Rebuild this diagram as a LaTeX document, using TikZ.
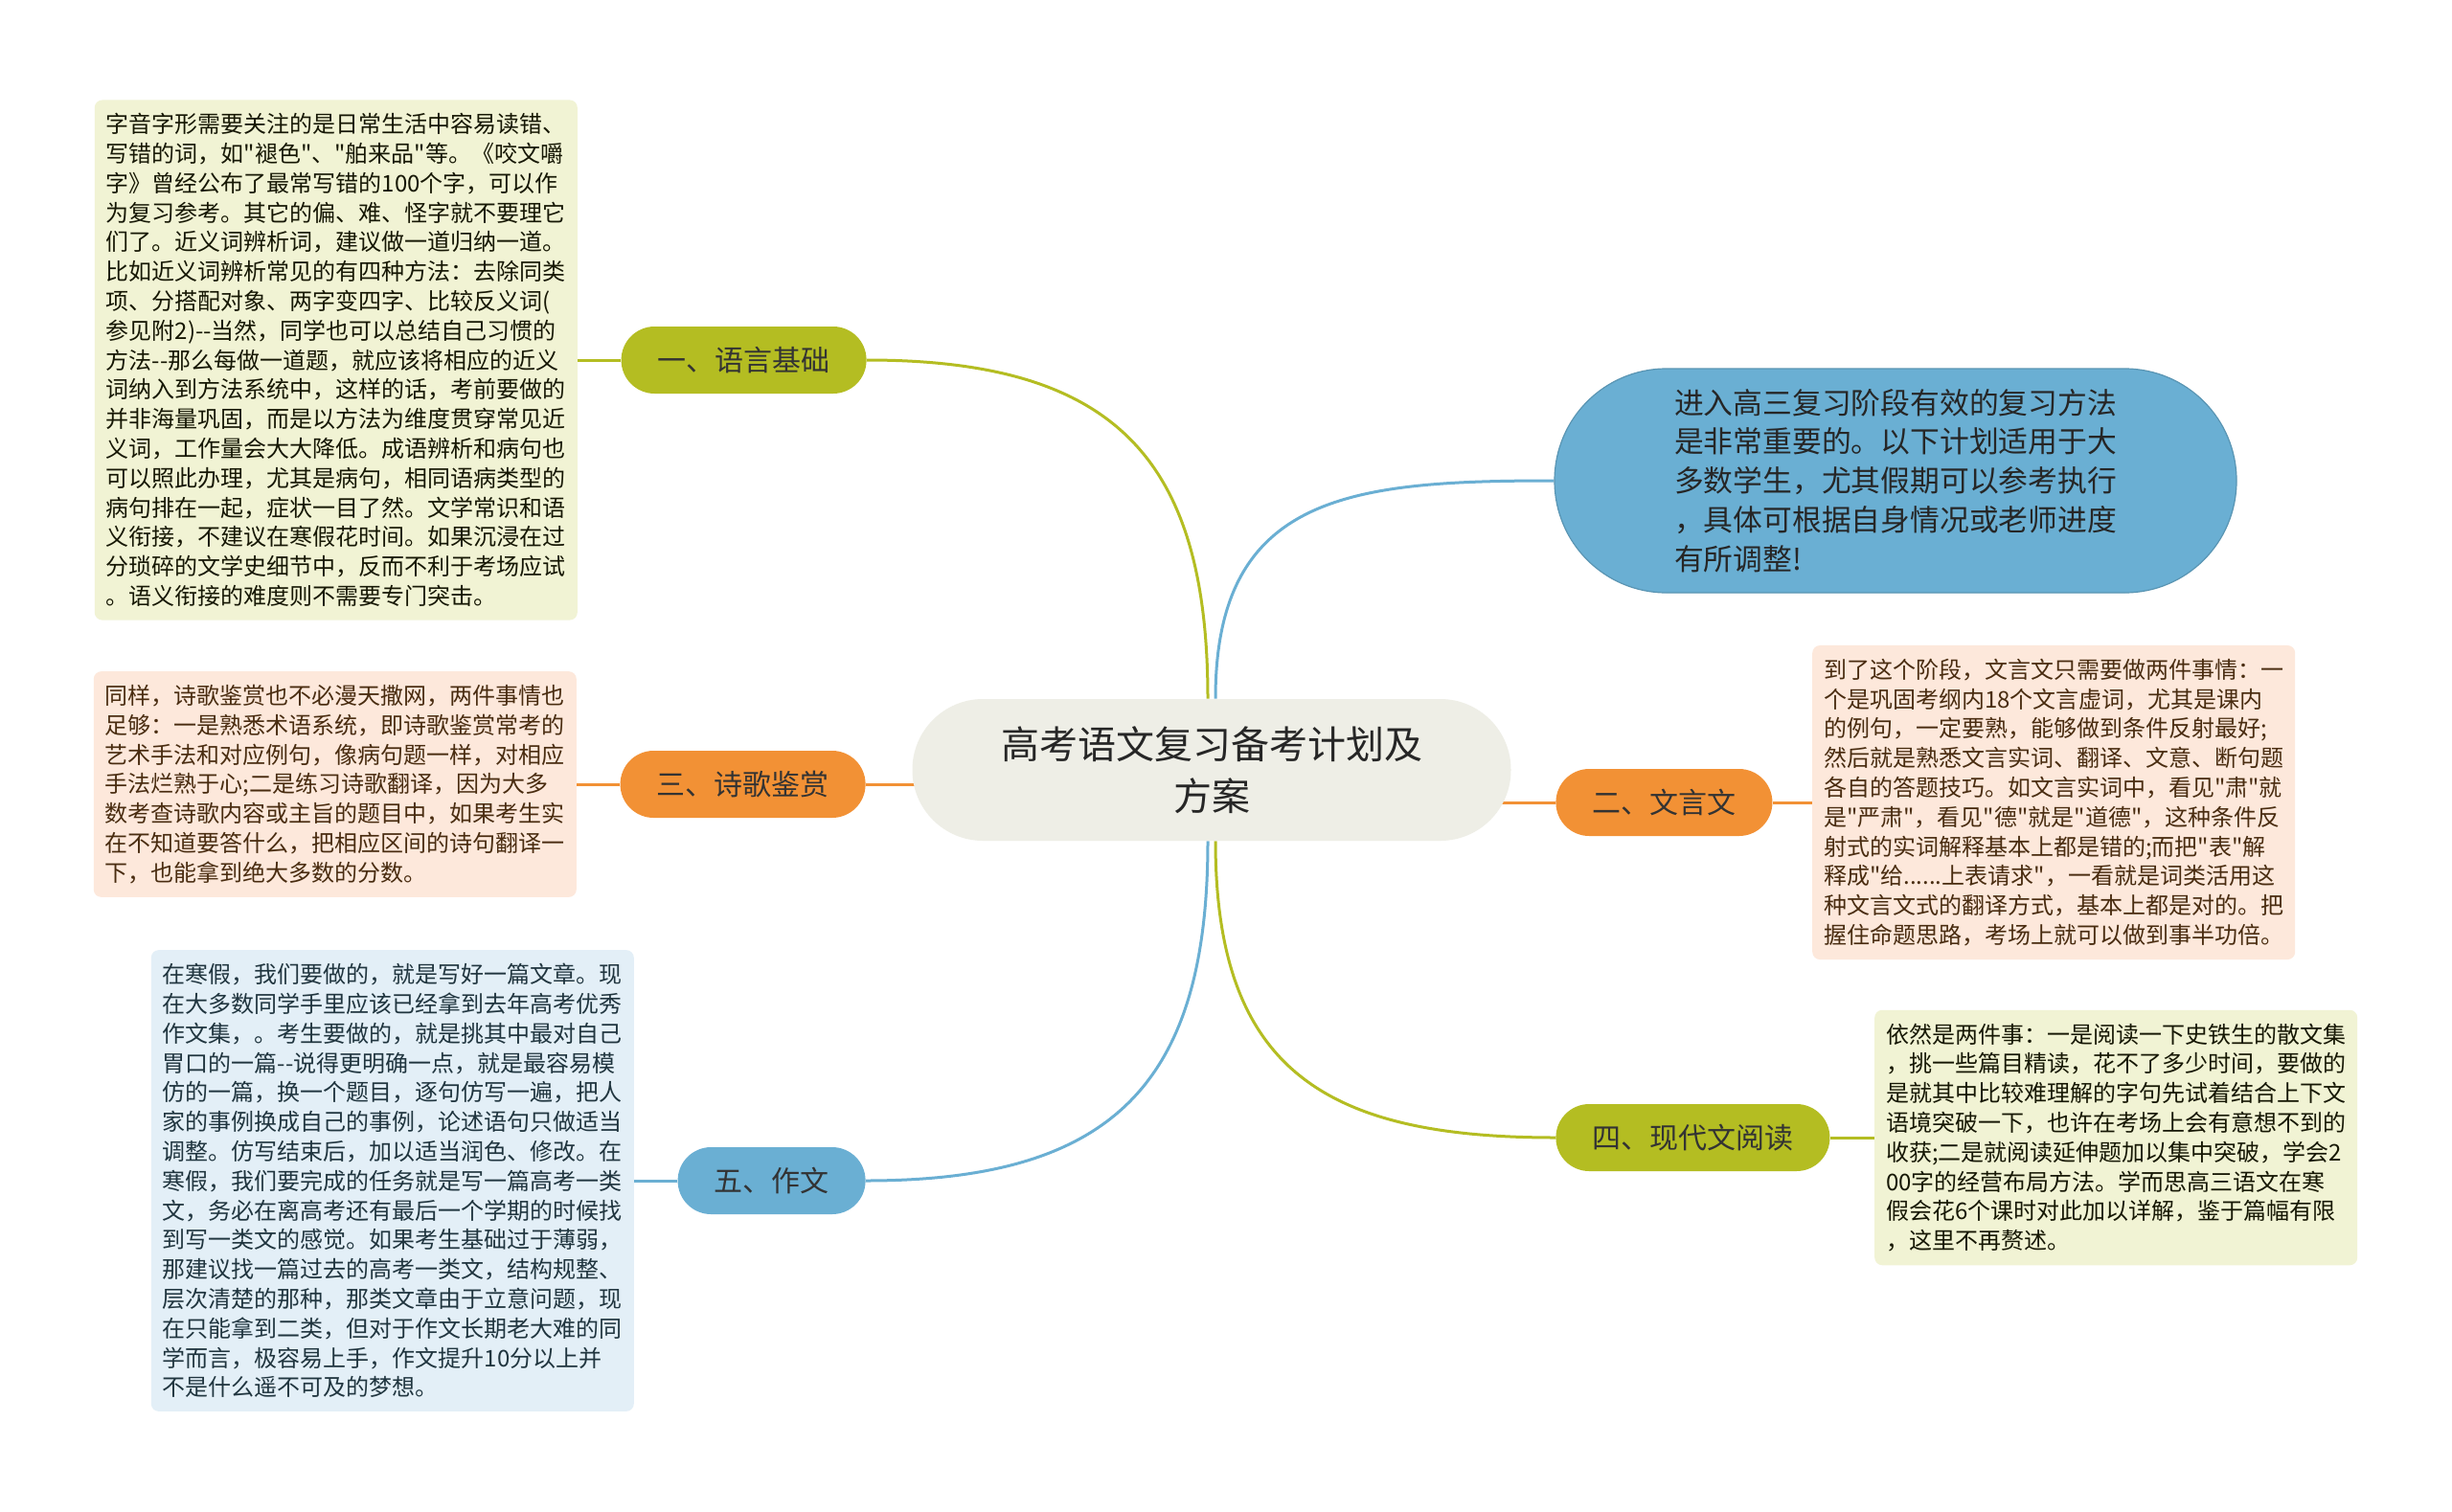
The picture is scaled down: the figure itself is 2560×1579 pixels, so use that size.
\documentclass[tikz,border=0pt]{standalone}
\usepackage{fontspec}
\setmainfont{Noto Sans CJK SC}[Ligatures=TeXOff]
\usetikzlibrary{positioning,backgrounds}
\definecolor{ygreen}{HTML}{B4BD22}
\definecolor{orng}{HTML}{F29135}
\definecolor{skyb}{HTML}{6AAFD3}
\definecolor{planfill}{HTML}{EEEEE6}
\definecolor{ygreenlight}{HTML}{F1F3D4}
\definecolor{ornglight}{HTML}{FDE8DB}
\definecolor{skyblight}{HTML}{E3EFF7}
\tikzstyle{topic}=[
	rectangle,
	rounded corners=36.9pt,
	fill=planfill,
	minimum width=312.5pt,
	minimum height=74pt,
	align=center,
	text=black!85,
	font=\fontsize{20pt}{27pt}\selectfont
]
\tikzstyle{branch}=[
	rectangle,
	rounded corners=17.4pt,
	minimum height=35pt,
	inner xsep=19pt,
	text=black!80,
	font=\fontsize{15pt}{18pt}\selectfont
]
\tikzstyle{intro}=[
	rectangle,
	rounded corners=58.4pt,
	fill=skyb,
	draw=skyb!85!black,
	line width=0.6pt,
	minimum width=356pt,
	minimum height=117pt,
	text width=231pt,
	align=left,
	text=black!85,
	font=\fontsize{15.4pt}{20.4pt}\selectfont
]
\tikzstyle{note}=[
	rectangle,
	rounded corners=4pt,
	text width=240pt,
	inner xsep=6pt,
	inner ysep=7pt,
	align=left,
	font=\fontsize{12pt}{15.4pt}\selectfont
]
\tikzstyle{link}=[
	line width=1.5pt
]

\begin{document}
\begin{tikzpicture}[x=0.5pt,y=-0.5pt]
\useasboundingbox (0,0) rectangle (2560,1579);

% centre and branches
\node [topic] (plan) at (1265,804) {高考语文复习备考计划及\\方案};
\node [branch, fill=ygreen, anchor=east] (yuyan) at (905,376) {一、语言基础};
\node [branch, fill=orng, anchor=east] (shige) at (904,819) {三、诗歌鉴赏};
\node [branch, fill=skyb, anchor=east] (zuowen) at (904,1233) {五、作文};
\node [intro] (intro) at (1979,502) {进入高三复习阶段有效的复习方法\\是非常重要的。以下计划适用于大\\多数学生，尤其假期可以参考执行\\，具体可根据自身情况或老师进度\\有所调整!};
\node [branch, fill=orng, anchor=west] (wenyan) at (1624,838) {二、文言文};
\node [branch, fill=ygreen, anchor=west] (xiandai) at (1624,1188) {四、现代文阅读};

% notes
\node [note, fill=ygreenlight, text=black!80!ygreen!60!black] (yuyanNote) [left=22.5pt of yuyan] {字音字形需要关注的是日常生活中容易读错、\\写错的词，如"褪色"、"舶来品"等。《咬文嚼\\字》曾经公布了最常写错的100个字，可以作\\为复习参考。其它的偏、难、怪字就不要理它\\们了。近义词辨析词，建议做一道归纳一道。\\比如近义词辨析常见的有四种方法：去除同类\\项、分搭配对象、两字变四字、比较反义词(\\参见附2)--当然，同学也可以总结自己习惯的\\方法--那么每做一道题，就应该将相应的近义\\词纳入到方法系统中，这样的话，考前要做的\\并非海量巩固，而是以方法为维度贯穿常见近\\义词，工作量会大大降低。成语辨析和病句也\\可以照此办理，尤其是病句，相同语病类型的\\病句排在一起，症状一目了然。文学常识和语\\义衔接，不建议在寒假花时间。如果沉浸在过\\分琐碎的文学史细节中，反而不利于考场应试\\。语义衔接的难度则不需要专门突击。};
\node [note, fill=ornglight, text=orng!30!black] (shigeNote) [left=22.5pt of shige] {同样，诗歌鉴赏也不必漫天撒网，两件事情也\\足够：一是熟悉术语系统，即诗歌鉴赏常考的\\艺术手法和对应例句，像病句题一样，对相应\\手法烂熟于心;二是练习诗歌翻译，因为大多\\数考查诗歌内容或主旨的题目中，如果考生实\\在不知道要答什么，把相应区间的诗句翻译一\\下，也能拿到绝大多数的分数。};
\node [note, fill=skyblight, text=skyb!30!black] (zuowenNote) [left=22.5pt of zuowen] {在寒假，我们要做的，就是写好一篇文章。现\\在大多数同学手里应该已经拿到去年高考优秀\\作文集，。考生要做的，就是挑其中最对自己\\胃口的一篇--说得更明确一点，就是最容易模\\仿的一篇，换一个题目，逐句仿写一遍，把人\\家的事例换成自己的事例，论述语句只做适当\\调整。仿写结束后，加以适当润色、修改。在\\寒假，我们要完成的任务就是写一篇高考一类\\文，务必在离高考还有最后一个学期的时候找\\到写一类文的感觉。如果考生基础过于薄弱，\\那建议找一篇过去的高考一类文，结构规整、\\层次清楚的那种，那类文章由于立意问题，现\\在只能拿到二类，但对于作文长期老大难的同\\学而言，极容易上手，作文提升10分以上并\\不是什么遥不可及的梦想。};
\node [note, fill=ornglight, text=orng!30!black] (wenyanNote) [right=20.5pt of wenyan] {到了这个阶段，文言文只需要做两件事情：一\\个是巩固考纲内18个文言虚词，尤其是课内\\的例句，一定要熟，能够做到条件反射最好;\\然后就是熟悉文言实词、翻译、文意、断句题\\各自的答题技巧。如文言实词中，看见"肃"就\\是"严肃"，看见"德"就是"道德"，这种条件反\\射式的实词解释基本上都是错的;而把"表"解\\释成"给......上表请求"，一看就是词类活用这\\种文言文式的翻译方式，基本上都是对的。把\\握住命题思路，考场上就可以做到事半功倍。};
\node [note, fill=ygreenlight, text=black!80!ygreen!60!black] (xiandaiNote) [right=23pt of xiandai] {依然是两件事：一是阅读一下史铁生的散文集\\，挑一些篇目精读，花不了多少时间，要做的\\是就其中比较难理解的字句先试着结合上下文\\语境突破一下，也许在考场上会有意想不到的\\收获;二是就阅读延伸题加以集中突破，学会2\\00字的经营布局方法。学而思高三语文在寒\\假会花6个课时对此加以详解，鉴于篇幅有限\\，这里不再赘述。};

% connectors
\begin{scope}[on background layer]
\fill [white] (0,0) rectangle (2560,1579);
\draw [link, ygreen] ([xshift=-2pt]plan.north) to [out=90, in=0, looseness=1.3] (yuyan.east);
\draw [link, skyb] ([xshift=2pt]plan.north) to [out=90, in=180, looseness=1.3] (intro.west);
\draw [link, skyb] ([xshift=-2pt]plan.south) to [out=-90, in=0, looseness=1.3] (zuowen.east);
\draw [link, ygreen] ([xshift=2pt]plan.south) to [out=-90, in=180, looseness=1.3] (xiandai.west);
\draw [link, orng] (shige.east) -- (shige.east -| plan);
\draw [link, orng] (wenyan.west) -- (wenyan.west -| plan);
\draw [link, ygreen] (yuyan) -- (yuyanNote);
\draw [link, orng] (shige) -- (shigeNote);
\draw [link, skyb] (zuowen) -- (zuowenNote);
\draw [link, orng] (wenyan) -- (wenyanNote);
\draw [link, ygreen] (xiandai) -- (xiandaiNote);
\end{scope}
\end{tikzpicture}
\end{document}
